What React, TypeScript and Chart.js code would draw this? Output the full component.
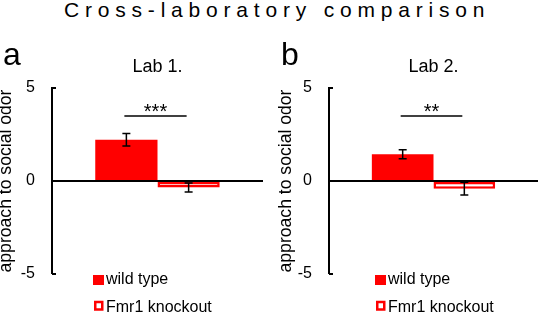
import React, { useEffect, useRef } from 'react';
import { Chart, registerables } from 'chart.js';

Chart.register(...registerables);

// ---------- data ----------
const chartTitle = 'Cross-laboratory comparison';
const panelLetters = ['a', 'b'];
const labNames = ['Lab 1.', 'Lab 2.'];
const seriesNames = ['wild type', 'Fmr1 knockout'];
const wildTypeMean = [2.22, 1.44];
const wildTypeSem = [0.34, 0.24];
const knockoutMean = [-0.35, -0.41];
const knockoutSem = [0.24, 0.34];
const significanceMarks = ['***', '**'];
const significanceLevel = [3.5, 3.5];
const yTickValues = [-5, 0, 5];
const yMin = -5;
const yMax = 5;
const yAxisLabel = 'approach to social odor';

// ---------- style / layout ----------
const RED = '#ff0000';
const FONT = "'Liberation Sans', Arial, sans-serif";
const CANVAS_H = 312;

const panelLayouts = [
  { left: 0, width: 268, axisWidth: 52, padRight: 5, titlePad: -3, legendX: 41, letterX: 3 },
  { left: 268, width: 270, axisWidth: 61, padRight: 0, titlePad: 9, legendX: 46, letterX: 13 },
];

type Layout = (typeof panelLayouts)[number];

function Panel({ index, layout }: { index: number; layout: Layout }) {
  const ref = useRef<HTMLCanvasElement>(null);

  useEffect(() => {
    const canvas = ref.current;
    if (!canvas) return;
    const errs = [wildTypeSem[index], knockoutSem[index]];

    const annotate = {
      id: 'annotate',
      afterDatasetsDraw(chart: any) {
        const ctx: CanvasRenderingContext2D = chart.ctx;
        const yScale = chart.scales.y;
        ctx.save();
        // error bars
        ctx.strokeStyle = '#000';
        ctx.lineWidth = 1.5;
        chart.data.datasets.forEach((ds: any, di: number) => {
          const meta = chart.getDatasetMeta(di);
          const bar = meta.data[0];
          const v = ds.data[0] as number;
          const e = errs[di];
          const yTop = yScale.getPixelForValue(v + e);
          const yBot = yScale.getPixelForValue(v - e);
          const x = bar.x;
          ctx.beginPath();
          ctx.moveTo(x, yTop);
          ctx.lineTo(x, yBot);
          ctx.moveTo(x - 4, yTop);
          ctx.lineTo(x + 4, yTop);
          ctx.moveTo(x - 4, yBot);
          ctx.lineTo(x + 4, yBot);
          ctx.stroke();
        });
        // significance bracket
        const x1 = chart.getDatasetMeta(0).data[0].x - 2;
        const x2 = chart.getDatasetMeta(1).data[0].x - 2;
        const ys = yScale.getPixelForValue(significanceLevel[index]);
        ctx.lineWidth = 1.5;
        ctx.beginPath();
        ctx.moveTo(x1, ys);
        ctx.lineTo(x2, ys);
        ctx.stroke();
        ctx.fillStyle = '#000';
        ctx.font = `20px ${FONT}`;
        ctx.textAlign = 'center';
        ctx.textBaseline = 'alphabetic';
        ctx.fillText(significanceMarks[index], (x1 + x2) / 2, ys + 2);
        ctx.restore();
      },
      afterDraw(chart: any) {
        const ctx: CanvasRenderingContext2D = chart.ctx;
        const area = chart.chartArea;
        const yScale = chart.scales.y;
        ctx.save();
        // inner tick stubs
        ctx.strokeStyle = '#000';
        ctx.lineWidth = 2;
        yTickValues.forEach((v) => {
          const y = Math.round(yScale.getPixelForValue(v));
          ctx.beginPath();
          ctx.moveTo(area.left, y);
          ctx.lineTo(area.left + 4, y);
          ctx.stroke();
        });
        // lab title
        ctx.fillStyle = '#000';
        ctx.font = `18px ${FONT}`;
        ctx.textAlign = 'center';
        ctx.textBaseline = 'alphabetic';
        ctx.fillText(labNames[index], (area.left + area.right) / 2, 72);
        // panel letter
        ctx.font = `32px ${FONT}`;
        ctx.textAlign = 'left';
        ctx.fillText(panelLetters[index], layout.letterX, 65);
        // legend
        const x0 = area.left + layout.legendX;
        ctx.fillStyle = RED;
        ctx.fillRect(x0, 275, 11, 10);
        ctx.strokeStyle = RED;
        ctx.lineWidth = 2.5;
        ctx.strokeRect(x0 + 2.25, 302, 7, 7.5);
        ctx.fillStyle = '#000';
        ctx.font = `16px ${FONT}`;
        ctx.fillText(seriesNames[0], x0 + 13, 284);
        ctx.fillText(seriesNames[1], x0 + 13, 311.5);
        ctx.restore();
      },
    };

    const chart = new Chart(canvas, {
      type: 'bar',
      data: {
        labels: [labNames[index]],
        datasets: [
          {
            label: seriesNames[0],
            data: [wildTypeMean[index]],
            backgroundColor: RED,
            borderColor: RED,
            borderWidth: 0,
          },
          {
            label: seriesNames[1],
            data: [knockoutMean[index]],
            backgroundColor: '#ffffff',
            borderColor: RED,
            borderWidth: 2.5,
            borderSkipped: false,
          },
        ],
      },
      options: {
        responsive: false,
        animation: false,
        events: [],
        layout: { padding: { top: 88, bottom: 38, left: 0, right: layout.padRight } },
        datasets: { bar: { categoryPercentage: 0.59, barPercentage: 1 } },
        plugins: {
          legend: { display: false },
          tooltip: { enabled: false },
          title: { display: false },
        },
        scales: {
          x: { display: false },
          y: {
            min: yMin,
            max: yMax,
            z: 1,
            afterBuildTicks: (s: any) => {
              s.ticks = yTickValues.map((v) => ({ value: v }));
            },
            afterFit: (s: any) => {
              s.width = layout.axisWidth;
            },
            ticks: { padding: 17, color: '#000', font: { family: FONT, size: 16 } },
            grid: {
              drawTicks: false,
              color: (c: any) => (c.tick && c.tick.value === 0 ? '#000' : 'rgba(0,0,0,0)'),
              lineWidth: (c: any) => (c.tick && c.tick.value === 0 ? 2 : 0),
            },
            border: { display: true, color: '#000', width: 2 },
            title: {
              display: true,
              text: yAxisLabel,
              color: '#000',
              font: { family: FONT, size: 17.6, lineHeight: 1 },
              padding: { top: layout.titlePad, bottom: 0 },
            },
          },
        },
      } as any,
      plugins: [annotate],
    });
    return () => chart.destroy();
  }, [index, layout]);

  return (
    <canvas
      ref={ref}
      width={layout.width}
      height={CANVAS_H}
      style={{ position: 'absolute', left: layout.left, top: 0, width: layout.width, height: CANVAS_H }}
    />
  );
}

export default function App() {
  return (
    <div
      style={{
        position: 'absolute',
        left: 0,
        top: 0,
        width: 538,
        height: 312,
        background: '#fff',
        overflow: 'hidden',
      }}
    >
      <div
        style={{
          position: 'absolute',
          left: 64,
          top: -1,
          fontFamily: FONT,
          fontSize: 21,
          lineHeight: '21px',
          letterSpacing: '5.8px',
          whiteSpace: 'nowrap',
          color: '#000',
        }}
      >
        {chartTitle}
      </div>
      {panelLayouts.map((l, i) => (
        <Panel key={i} index={i} layout={l} />
      ))}
    </div>
  );
}
